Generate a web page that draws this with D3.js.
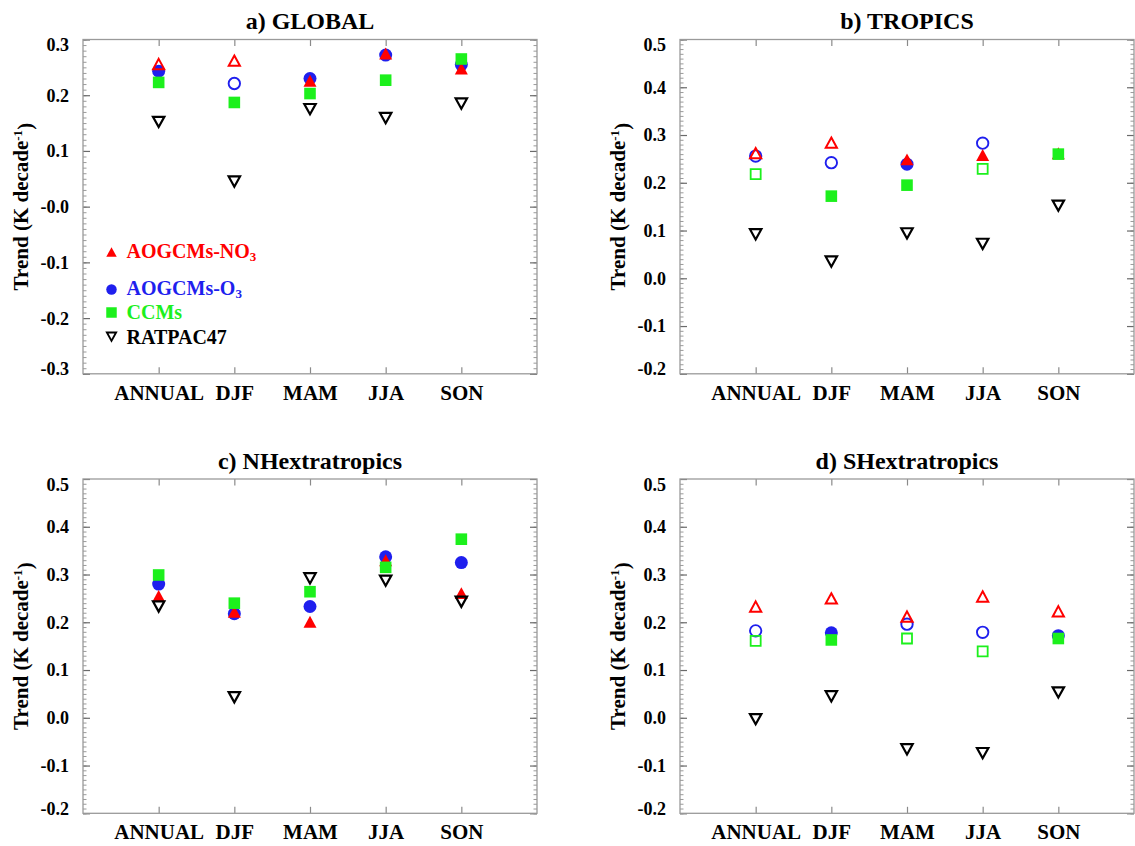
<!DOCTYPE html>
<html>
<head>
<meta charset="utf-8">
<script src="https://cdn.jsdelivr.net/npm/d3@7"></script>
<style>
  html, body { margin: 0; padding: 0; background: #ffffff; }
  svg { display: block; }
  text { font-family: "Liberation Serif", "Times New Roman", serif; font-weight: bold; }
</style>
</head>
<body>
<div id="chart"></div>
<script>
// ---------------- DATA ----------------
const categories = ["ANNUAL", "DJF", "MAM", "JJA", "SON"];
const panelTitles = ["a) GLOBAL", "b) TROPICS", "c) NHextratropics", "d) SHextratropics"];
const seriesNames = ["AOGCMs-NO3", "AOGCMs-O3", "CCMs", "RATPAC47"];

const yDomainGlobal = [-0.3, 0.3];
const yDomainOther = [-0.2, 0.5];
const tickValuesGlobal = [-0.3, -0.2, -0.1, 0.0, 0.1, 0.2, 0.3];
const tickLabelsGlobal = ["-0.3", "-0.2", "-0.1", "-0.0", "0.1", "0.2", "0.3"];
const tickValuesOther = [-0.2, -0.1, 0.0, 0.1, 0.2, 0.3, 0.4, 0.5];
const tickLabelsOther = ["-0.2", "-0.1", "0.0", "0.1", "0.2", "0.3", "0.4", "0.5"];

// a) GLOBAL
const globalNO3 = [0.256, 0.262, 0.226, 0.275, 0.248];
const globalO3  = [0.243, 0.221, 0.230, 0.272, 0.255];
const globalCCM = [0.223, 0.187, 0.203, 0.227, 0.265];
const globalRAT = [0.152, 0.045, 0.175, 0.159, 0.185];
const globalNO3Filled = [false, false, true, true, true];
const globalO3Filled  = [true, false, true, true, true];
const globalCCMFilled = [true, true, true, true, true];

// b) TROPICS (SON AOGCMs-O3 hidden under the CCMs square: not visible)
const tropicsNO3 = [0.262, 0.284, 0.249, 0.258, 0.262];
const tropicsO3  = [0.256, 0.242, 0.239, 0.283, null];
const tropicsCCM = [0.218, 0.172, 0.195, 0.229, 0.260];
const tropicsRAT = [0.092, 0.035, 0.094, 0.072, 0.152];
const tropicsNO3Filled = [false, false, true, true, true];
const tropicsO3Filled  = [false, false, true, false, true];
const tropicsCCMFilled = [false, true, true, false, true];

// c) NHextratropics
const nhNO3 = [0.255, 0.222, 0.201, 0.330, 0.261];
const nhO3  = [0.280, 0.218, 0.233, 0.337, 0.325];
const nhCCM = [0.299, 0.240, 0.264, 0.315, 0.374];
const nhRAT = [0.233, 0.043, 0.292, 0.287, 0.243];
const nhNO3Filled = [true, true, true, true, true];
const nhO3Filled  = [true, true, true, true, true];
const nhCCMFilled = [true, true, true, true, true];

// d) SHextratropics
const shNO3 = [0.233, 0.250, 0.212, 0.254, 0.223];
const shO3  = [0.182, 0.178, 0.196, 0.179, 0.172];
const shCCM = [0.161, 0.163, 0.166, 0.139, 0.166];
const shRAT = [-0.003, 0.045, -0.066, -0.074, 0.053];
const shNO3Filled = [false, false, false, false, false];
const shO3Filled  = [false, true, false, false, true];
const shCCMFilled = [false, true, false, false, true];

// ---------------- STYLE / LAYOUT ----------------
const W = 1135, H = 846;
const colors = { no3: "#ff0000", o3: "#1f1fee", ccm: "#1cf01c", rat: "#000000" };
const frameColor = "#9a9a9a";

const panels = [
  { title: panelTitles[0], left: 83,  right: 537,  top: 39.5, bottom: 373.8, dom: yDomainGlobal, tv: tickValuesGlobal, tl: tickLabelsGlobal,
    no3: globalNO3, o3: globalO3, ccm: globalCCM, rat: globalRAT, no3F: globalNO3Filled, o3F: globalO3Filled, ccmF: globalCCMFilled, legend: true },
  { title: panelTitles[1], left: 680, right: 1134, top: 39.5, bottom: 373.8, dom: yDomainOther, tv: tickValuesOther, tl: tickLabelsOther,
    no3: tropicsNO3, o3: tropicsO3, ccm: tropicsCCM, rat: tropicsRAT, no3F: tropicsNO3Filled, o3F: tropicsO3Filled, ccmF: tropicsCCMFilled },
  { title: panelTitles[2], left: 83,  right: 537,  top: 479, bottom: 813.3, dom: yDomainOther, tv: tickValuesOther, tl: tickLabelsOther,
    no3: nhNO3, o3: nhO3, ccm: nhCCM, rat: nhRAT, no3F: nhNO3Filled, o3F: nhO3Filled, ccmF: nhCCMFilled },
  { title: panelTitles[3], left: 680, right: 1134, top: 479, bottom: 813.3, dom: yDomainOther, tv: tickValuesOther, tl: tickLabelsOther,
    no3: shNO3, o3: shO3, ccm: shCCM, rat: shRAT, no3F: shNO3Filled, o3F: shO3Filled, ccmF: shCCMFilled }
];

// custom symbol types (drawn via d3.symbol)
const triUp = { draw(ctx, s) { const w = s, h = s * 0.92; ctx.moveTo(0, -h / 2); ctx.lineTo(w / 2, h / 2); ctx.lineTo(-w / 2, h / 2); ctx.closePath(); } };
const triDown = { draw(ctx, s) { const w = s, h = s * 0.9; ctx.moveTo(-w / 2, -h / 2); ctx.lineTo(w / 2, -h / 2); ctx.lineTo(0, h / 2); ctx.closePath(); } };
const circ = { draw(ctx, s) { const r = s / 2; ctx.moveTo(r, 0); ctx.arc(0, 0, r, 0, 2 * Math.PI); } };
const sq = { draw(ctx, s) { const h = s / 2; ctx.rect(-h, -h, s, s); } };

const svg = d3.select("#chart").append("svg").attr("width", W).attr("height", H);
svg.append("rect").attr("width", W).attr("height", H).attr("fill", "#fff");

function range(a, b, step) { const out = []; for (let v = a; v <= b + 1e-9; v += step) out.push(+v.toFixed(3)); return out; }

panels.forEach(p => {
  const g = svg.append("g");
  const x = d3.scalePoint().domain(categories).range([p.left, p.right]).padding(1);
  const y = d3.scaleLinear().domain(p.dom).range([p.bottom, p.top]);
  const minor = range(p.dom[0], p.dom[1], 0.01);
  const plotW = p.right - p.left;

  // minor ticks left/right
  g.append("g").attr("transform", `translate(${p.left},0)`)
    .call(d3.axisLeft(y).tickValues(minor).tickSize(-3.5).tickFormat(""))
    .call(s => s.select(".domain").remove())
    .call(s => s.selectAll("line").attr("stroke", frameColor).attr("stroke-width", 1));
  g.append("g").attr("transform", `translate(${p.right},0)`)
    .call(d3.axisRight(y).tickValues(minor).tickSize(-3.5).tickFormat(""))
    .call(s => s.select(".domain").remove())
    .call(s => s.selectAll("line").attr("stroke", frameColor).attr("stroke-width", 1));

  // major ticks + labels left
  const labelMap = new Map(p.tv.map((v, i) => [v, p.tl[i]]));
  const ax = g.append("g").attr("transform", `translate(${p.left},0)`)
    .call(d3.axisLeft(y).tickValues(p.tv).tickSize(-7).tickPadding(14).tickFormat(v => labelMap.get(v)));
  ax.select(".domain").remove();
  ax.selectAll("line").attr("stroke", "#6a6a6a").attr("stroke-width", 1.2);
  ax.selectAll("text").attr("fill", "#000").style("font-size", "18px")
    .style("font-family", '"Liberation Serif", serif').style("font-weight", "bold")
    .attr("dy", (d) => d === p.dom[1] ? "0.62em" : (d === p.dom[0] ? "0.05em" : "0.33em"));

  g.append("g").attr("transform", `translate(${p.right},0)`)
    .call(d3.axisRight(y).tickValues(p.tv).tickSize(-7).tickFormat(""))
    .call(s => s.select(".domain").remove())
    .call(s => s.selectAll("line").attr("stroke", "#6a6a6a").attr("stroke-width", 1.2));

  // category ticks top/bottom
  const bx = g.append("g").attr("transform", `translate(0,${p.bottom})`)
    .call(d3.axisBottom(x).tickSize(-6.5).tickPadding(11));
  bx.select(".domain").remove();
  bx.selectAll("line").attr("stroke", "#8a8a8a").attr("stroke-width", 1.2);
  bx.selectAll("text").attr("fill", "#000").style("font-size", "21px")
    .style("font-family", '"Liberation Serif", serif').style("font-weight", "bold").attr("dy", "0.71em");

  g.append("g").attr("transform", `translate(0,${p.top})`)
    .call(d3.axisTop(x).tickSize(-6.5).tickFormat(""))
    .call(s => s.select(".domain").remove())
    .call(s => s.selectAll("line").attr("stroke", "#8a8a8a").attr("stroke-width", 1.2));

  // frame
  g.append("rect").attr("x", p.left).attr("y", p.top).attr("width", plotW).attr("height", p.bottom - p.top)
    .attr("fill", "none").attr("stroke", frameColor).attr("stroke-width", 1.3);

  // title
  g.append("text").attr("x", (p.left + p.right) / 2).attr("y", p.top - 10.5)
    .attr("text-anchor", "middle").style("font-size", "24px").attr("fill", "#000").text(p.title);

  // y label
  const yl = g.append("text")
    .attr("transform", `translate(${p.left - 55},${(p.top + p.bottom) / 2}) rotate(-90)`)
    .attr("text-anchor", "middle").style("font-size", "21px").attr("fill", "#000");
  yl.append("tspan").text("Trend (K decade");
  yl.append("tspan").attr("dy", "-0.45em").style("font-size", "13px").text("-1");
  yl.append("tspan").attr("dy", "0.45em").text(")");

  // markers (draw order: O3, NO3, CCM, RATPAC)
  const sym = (type, size) => d3.symbol().type(type).size(size)();
  const layer = g.append("g");
  function drawSeries(vals, filled, type, color, sizeFilled, sizeOpen, sw) {
    layer.append("g").selectAll("path")
      .data(vals.map((v, i) => ({ v, i })).filter(d => d.v !== null))
      .join("path")
      .attr("transform", d => `translate(${x(categories[d.i])},${y(d.v)})`)
      .attr("d", d => filled[d.i] ? sym(type, sizeFilled) : sym(type, sizeOpen))
      .attr("fill", d => filled[d.i] ? color : "none")
      .attr("stroke", d => filled[d.i] ? "none" : color)
      .attr("stroke-width", sw);
  }
  drawSeries(p.o3, p.o3F, circ, colors.o3, 13, 11.4, 1.9);
  drawSeries(p.no3, p.no3F, triUp, colors.no3, 13, 11.2, 2);
  drawSeries(p.ccm, p.ccmF, sq, colors.ccm, 11.6, 10, 1.8);
  drawSeries(p.rat, [false, false, false, false, false], triDown, colors.rat, 13, 11.4, 2.2);

  // legend
  if (p.legend) {
    const lg = g.append("g");
    const items = [
      { type: triUp, color: colors.no3, filled: true, my: 252, ty: 258, main: "AOGCMs-NO", sub: "3" },
      { type: circ, color: colors.o3, filled: true, my: 289.5, ty: 294.5, main: "AOGCMs-O", sub: "3" },
      { type: sq, color: colors.ccm, filled: true, my: 312.5, ty: 319, main: "CCMs", sub: null },
      { type: triDown, color: colors.rat, filled: false, my: 336.7, ty: 344, main: "RATPAC47", sub: null }
    ];
    items.forEach(it => {
      lg.append("path").attr("transform", `translate(${p.left + 28.5},${it.my})`)
        .attr("d", sym(it.type, it.filled ? 10.5 : 9.2))
        .attr("fill", it.filled ? it.color : "none")
        .attr("stroke", it.filled ? "none" : it.color).attr("stroke-width", 1.9);
      const t = lg.append("text").attr("x", p.left + 43.5).attr("y", it.ty)
        .style("font-size", "20px").attr("fill", it.color);
      t.append("tspan").text(it.main);
      if (it.sub) t.append("tspan").attr("dy", "0.25em").style("font-size", "13px").text(it.sub);
    });
  }
});
</script>
</body>
</html>
